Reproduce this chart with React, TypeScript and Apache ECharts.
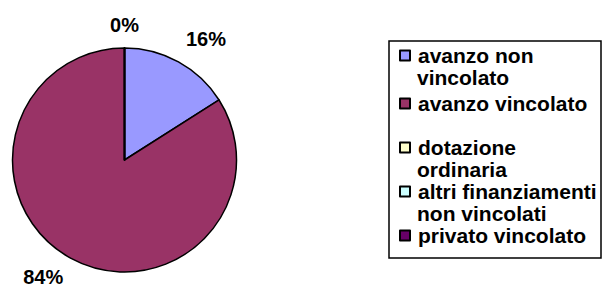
import React, { useEffect, useRef } from 'react';
import * as echarts from 'echarts';

// ---- data ----
const categories = [
  'avanzo non vincolato',
  'avanzo vincolato',
  'dotazione ordinaria',
  'altri finanziamenti non vincolati',
  'privato vincolato',
];
const values = [16, 84, 0, 0, 0];
const legendFirstLines = ['avanzo non', 'avanzo vincolato', 'dotazione', 'altri finanziamenti', 'privato vincolato'];
const legendSecondLines = ['vincolato', '', 'ordinaria', 'non vincolati', ''];

// ---- styles / layout ----
const colors = ['#9999FF', '#993366', '#FFFFCC', '#CCFFFF', '#660066'];
const showLabel = [true, true, true, false, false];
const labelLen = [26, 21.5, 23.5, 20, 20];
const labelLen2 = [-5, -3, 0, 0, 0];
const markerCenters = [55, 103, 147, 191, 235];
const LINE_H = 20;
const SECOND_LINE_OFFSET = 22;
const FONT = '"Liberation Sans", Arial, Helvetica, sans-serif';

export default function App() {
  const ref = useRef<HTMLDivElement>(null);
  useEffect(() => {
    if (!ref.current) return;
    const chart = echarts.init(ref.current, null, { renderer: 'svg' });

    const data = categories.map((name, i) => ({
      name,
      value: values[i],
      itemStyle: { color: colors[i] },
      label: { show: showLabel[i] },
      labelLine: { show: false, length: labelLen[i], length2: labelLen2[i] },
    }));

    const legends = categories.map((name, i) => ({
      data: [name],
      left: 399,
      top: markerCenters[i] - LINE_H / 2,
      padding: 0,
      orient: 'vertical',
      icon: 'rect',
      itemWidth: 10,
      itemHeight: 10,
      selectedMode: false,
      formatter: () => legendFirstLines[i],
      textStyle: {
        fontFamily: FONT,
        fontSize: 21,
        fontWeight: 'bold',
        color: '#000',
        lineHeight: LINE_H,
        padding: [0, 0, 0, 3],
      },
    }));

    const secondLines: any[] = [];
    legendSecondLines.forEach((t, i) => {
      if (!t) return;
      secondLines.push({
        type: 'text',
        z: 10,
        style: {
          text: t,
          x: 417,
          y: markerCenters[i] + SECOND_LINE_OFFSET,
          fill: '#000',
          fontFamily: FONT,
          fontSize: 21,
          fontWeight: 'bold',
          lineHeight: LINE_H,
          verticalAlign: 'middle',
          align: 'left',
        },
      });
    });

    chart.setOption({
      animation: false,
      backgroundColor: '#fff',
      legend: legends,
      graphic: [
        {
          type: 'rect',
          z: 0,
          shape: { x: 389, y: 41, width: 212, height: 217 },
          style: { fill: 'none', stroke: '#000', lineWidth: 1.5 },
        },
        ...secondLines,
      ],
      series: [
        {
          type: 'pie',
          center: [124.5, 160],
          radius: 112,
          startAngle: 90,
          clockwise: true,
          avoidLabelOverlap: false,
          silent: true,
          emphasis: { disabled: true },
          itemStyle: { borderColor: '#000', borderWidth: 1.5 },
          label: {
            position: 'outside',
            formatter: (p: any) => Math.round(p.percent) + '%',
            fontFamily: FONT,
            fontSize: 20,
            fontWeight: 'bold',
            color: '#000',
            distanceToLabelLine: 0,
          },
          labelLine: { show: false },
          labelLayout: (params: any) => (params.dataIndex === 2 ? { align: 'center' } : {}),
          data,
        },
      ],
    });
    return () => chart.dispose();
  }, []);

  return (
    <div
      ref={ref}
      style={{ position: 'absolute', left: 0, top: 0, width: 604, height: 292, background: '#fff' }}
    />
  );
}
